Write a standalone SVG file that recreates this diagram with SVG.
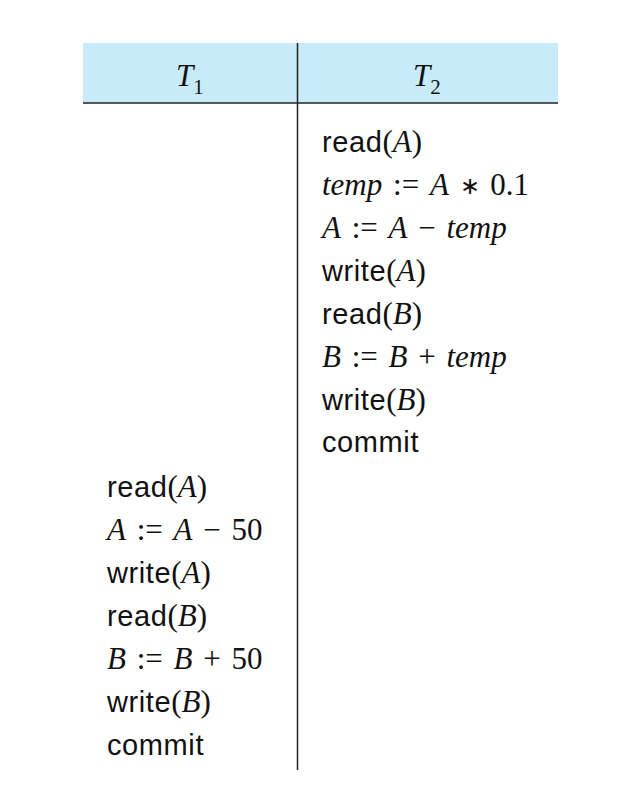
<svg xmlns="http://www.w3.org/2000/svg" width="620" height="807" viewBox="0 0 620 807">
<style>
.s{font-family:"Liberation Sans",Arial,sans-serif;font-size:29px;letter-spacing:0.6px;fill:#111}
.t{font-family:"Liberation Serif","Times New Roman",serif;font-size:31px;letter-spacing:0;fill:#111}
.i{font-style:italic}
</style>
<rect width="620" height="807" fill="#fff"/>
<rect x="83" y="43" width="475" height="60" fill="#c8ebf9"/>
<line x1="83" y1="103" x2="558" y2="103" stroke="#222" stroke-width="1.5"/>
<line x1="297.5" y1="43" x2="297.5" y2="770" stroke="#222" stroke-width="1.5"/>
<text x="176" y="86" class="t i">T<tspan font-size="21" dy="8" font-style="normal">1</tspan></text>
<text x="413" y="86" class="t i">T<tspan font-size="21" dy="8" font-style="normal">2</tspan></text>
<g id="t2">
<text x="322" y="152" class="s">read<tspan class="t">(<tspan class="i">A</tspan>)</tspan></text>
<text x="322" y="195" class="t" word-spacing="3"><tspan class="i">temp</tspan> := <tspan class="i">A</tspan> <tspan font-size="24" dy="-1">∗</tspan><tspan dy="1"> 0.1</tspan></text>
<text x="322" y="238" class="t" word-spacing="3"><tspan class="i">A</tspan> := <tspan class="i">A</tspan> − <tspan class="i">temp</tspan></text>
<text x="322" y="281" class="s">write<tspan class="t">(<tspan class="i">A</tspan>)</tspan></text>
<text x="322" y="324" class="s">read<tspan class="t">(<tspan class="i">B</tspan>)</tspan></text>
<text x="322" y="367" class="t" word-spacing="3"><tspan class="i">B</tspan> := <tspan class="i">B</tspan> + <tspan class="i">temp</tspan></text>
<text x="322" y="410" class="s">write<tspan class="t">(<tspan class="i">B</tspan>)</tspan></text>
<text x="322" y="452" class="s">commit</text>
</g>
<g id="t1">
<text x="107" y="497" class="s">read<tspan class="t">(<tspan class="i">A</tspan>)</tspan></text>
<text x="107" y="540" class="t" word-spacing="3"><tspan class="i">A</tspan> := <tspan class="i">A</tspan> − 50</text>
<text x="107" y="583" class="s">write<tspan class="t">(<tspan class="i">A</tspan>)</tspan></text>
<text x="107" y="626" class="s">read<tspan class="t">(<tspan class="i">B</tspan>)</tspan></text>
<text x="107" y="669" class="t" word-spacing="3"><tspan class="i">B</tspan> := <tspan class="i">B</tspan> + 50</text>
<text x="107" y="712" class="s">write<tspan class="t">(<tspan class="i">B</tspan>)</tspan></text>
<text x="107" y="755" class="s">commit</text>
</g>
</svg>
